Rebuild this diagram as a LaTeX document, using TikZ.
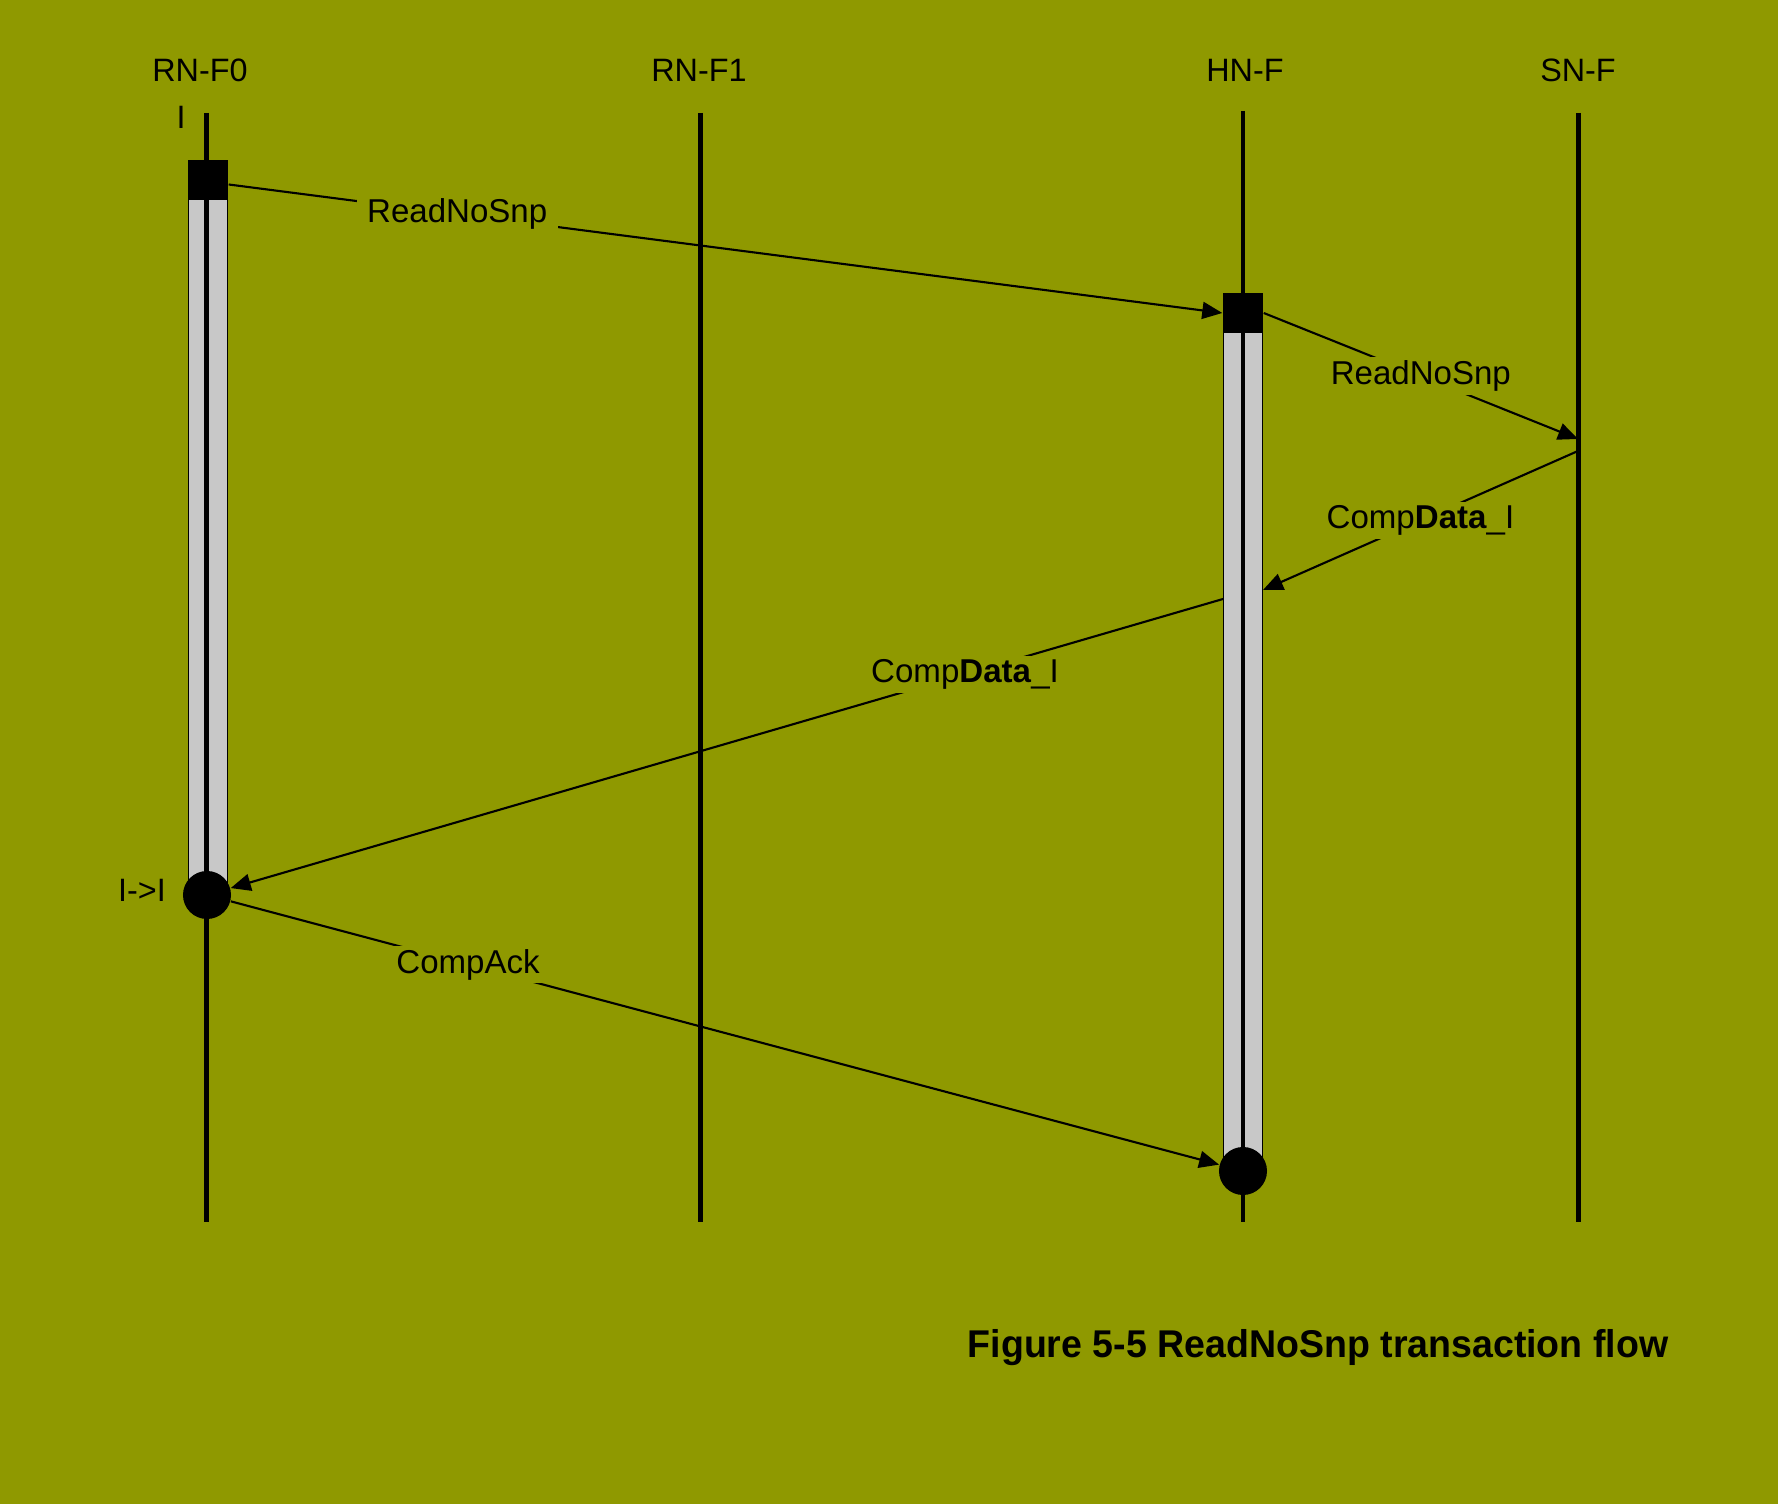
\documentclass[tikz,border=0pt]{standalone}
\usepackage{fontspec}
\setmainfont{Liberation Sans}
\usetikzlibrary{arrows.meta}
\definecolor{bgolive}{HTML}{8F9900}
\definecolor{bargrey}{HTML}{C8C8C8}
\tikzset{
  lifeline/.style={line width=1.15pt, color=black},
  actbar/.style={draw=black, fill=bargrey, line width=0.5pt},
  sqbox/.style={rectangle, fill=black, minimum size=4mm, inner sep=0pt},
  endcirc/.style={circle, fill=black, minimum size=4.8mm, inner sep=0pt},
  headlabel/.style={font=\fontsize{9.2}{11}\selectfont, inner sep=1pt},
  msg/.style={-{Triangle[length=2mm, width=1.7mm]}, line width=0.6pt},
  msglabel/.style={fill=bgolive, font=\fontsize{9.4}{11}\selectfont, inner xsep=3pt, inner ysep=1pt},
}

\begin{document}
\begin{tikzpicture}[x=0.01cm, y=-0.01cm]
  \fill[bgolive] (0,0) rectangle (1778,1504);
  \useasboundingbox (0,0) rectangle (1778,1504);
  \node[headlabel] (rnf0) at (200,70) {RN-F0};
  \node[headlabel] (rnf1) at (699,70) {RN-F1};
  \node[headlabel] (hnf) at (1245,70) {HN-F};
  \node[headlabel] (snf) at (1578,70) {SN-F};
  \node[headlabel] (istate) at (181,117) {I};
  \coordinate (rnf0top) at (206.5,113);
  \coordinate (rnf0bot) at (206.5,1222);
  \coordinate (rnf1top) at (700.5,113);
  \coordinate (rnf1bot) at (700.5,1222);
  \coordinate (hnftop) at (1243,111);
  \coordinate (hnfbot) at (1243,1222);
  \coordinate (snftop) at (1578.5,113);
  \coordinate (snfbot) at (1578.5,1222);
  \draw[actbar] (188.5,190) rectangle (227.5,895);
  \draw[actbar] (1223.5,320) rectangle (1262.5,1170);
  \draw[lifeline] (rnf0top) -- (rnf0bot);
  \draw[lifeline] (rnf1top) -- (rnf1bot);
  \draw[lifeline] (hnftop) -- (hnfbot);
  \draw[lifeline] (snftop) -- (snfbot);
  \node[sqbox] (req0) at (208,180.5) {};
  \node[sqbox] (reqh) at (1243,313) {};
  \node[endcirc] (done0) at (207,895) {};
  \node[endcirc] (doneh) at (1243,1171) {};
  \node[headlabel] (trans) at (142,890) {I->I};
  \coordinate (snfin) at (1578,439);
  \coordinate (snfout) at (1578,451);
  \coordinate (hnfin) at (1263,590);
  \coordinate (hnfout) at (1223,599);
  \draw[msg] ([yshift=-0.04cm]req0.east) -- node[msglabel, pos=0.23] (lbl1) {ReadNoSnp} (reqh.west);
  \draw[msg] (reqh.east) -- node[msglabel, pos=0.5] (lbl2) {ReadNoSnp} (snfin);
  \draw[msg] (snfout) -- node[msglabel, pos=0.5] (lbl3) {Comp\textbf{Data}\_I} (hnfin);
  \draw[msg] (hnfout) -- node[msglabel, pos=0.26] (lbl4) {Comp\textbf{Data}\_I} (done0);
  \draw[msg] (done0) -- node[msglabel, pos=0.24] (lbl5) {CompAck} (doneh);
  \node[font=\bfseries\fontsize{11}{13}\selectfont] (caption) at (1318,1348) {\scalebox{0.97}[1]{Figure 5-5 ReadNoSnp transaction flow}};
\end{tikzpicture}
\end{document}
